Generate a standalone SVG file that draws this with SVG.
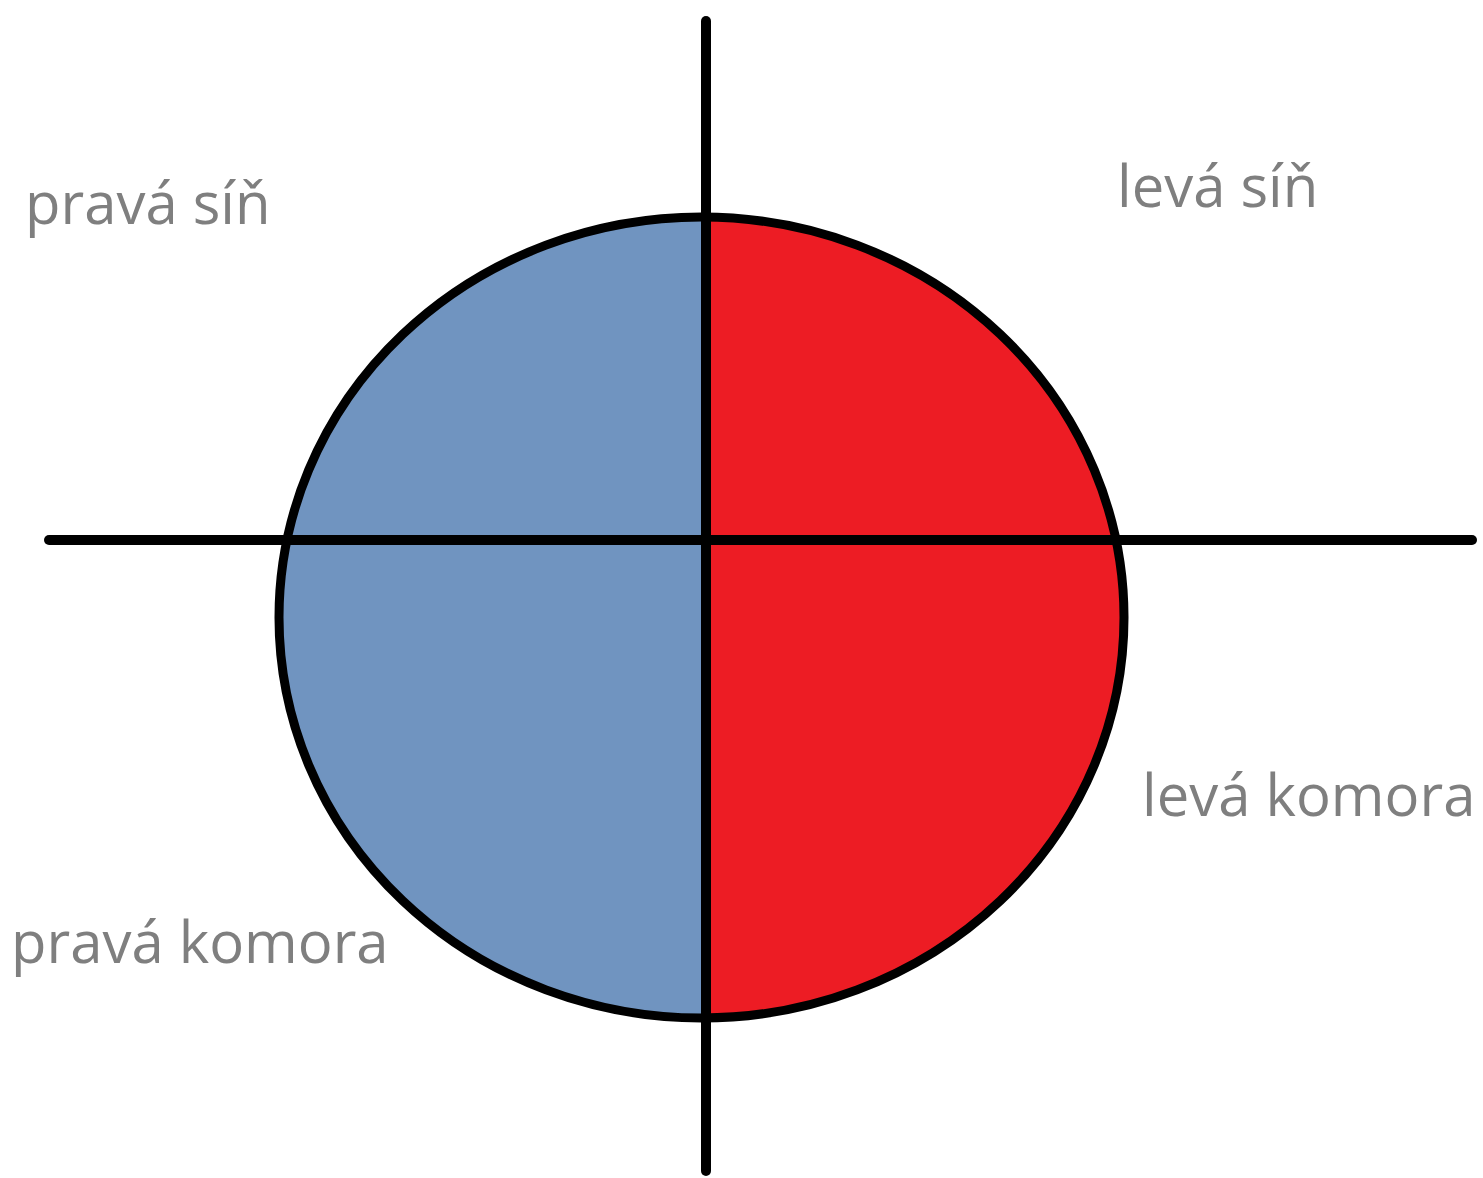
<svg xmlns="http://www.w3.org/2000/svg" width="1483" height="1178" viewBox="0 0 1483 1178">
<style>
.lbl{font-family:"Open Sans","Noto Sans","DejaVu Sans",sans-serif;font-size:58px;fill:#7f7f7f}
.ln{stroke:#000;stroke-width:10;stroke-linecap:round;fill:none}
</style>
<rect width="1483" height="1178" fill="#fff"/>
<defs>
<clipPath id="cl"><rect x="0" y="0" width="706" height="1178"/></clipPath>
<clipPath id="cr"><rect x="706" y="0" width="800" height="1178"/></clipPath>
</defs>
<g id="heart">
<ellipse cx="701.5" cy="617.5" rx="422.5" ry="400.5" fill="#7094c0" clip-path="url(#cl)"/>
<ellipse cx="701.5" cy="617.5" rx="422.5" ry="400.5" fill="#ed1c24" clip-path="url(#cr)"/>
<ellipse cx="701.5" cy="617.5" rx="422.5" ry="400.5" fill="none" stroke="#000" stroke-width="9"/>
</g>
<g id="connectors">
<line class="ln" x1="706" y1="21" x2="706" y2="1171"/>
<line class="ln" x1="49" y1="540" x2="1472" y2="540"/>
</g>
<g id="pravasin"><text class="lbl" x="25" y="224">pravá síň</text></g>
<g id="levasin"><text class="lbl" x="1117" y="207">levá síň</text></g>
<g id="levakomora"><text class="lbl" x="1142" y="816">levá komora</text></g>
<g id="pravakomora"><text class="lbl" x="11" y="963">pravá komora</text></g>
</svg>
